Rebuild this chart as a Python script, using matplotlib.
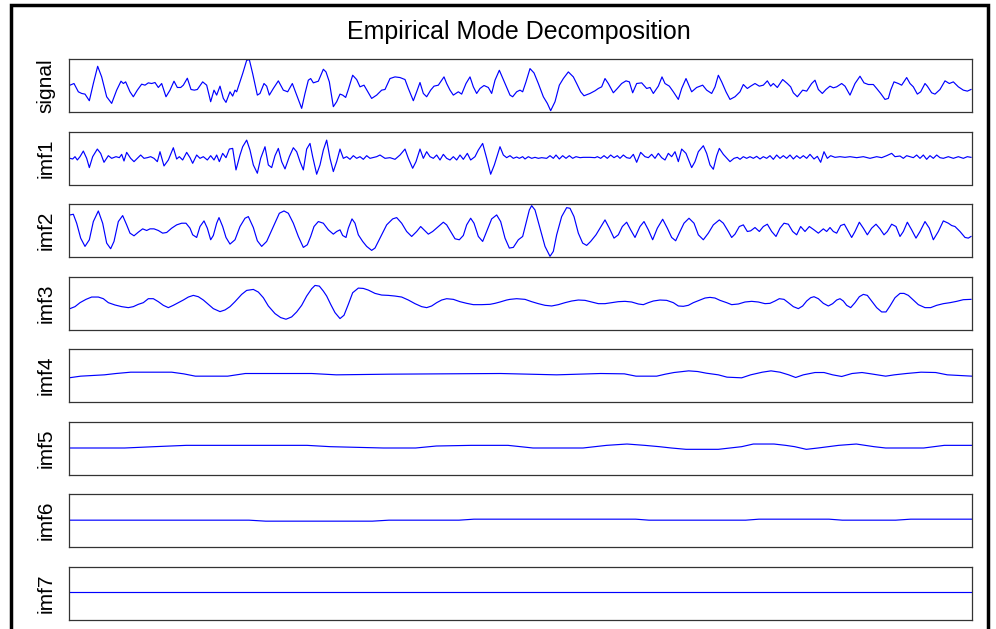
import matplotlib.pyplot as plt
from matplotlib.patches import Rectangle

plt.rcParams['font.family'] = ['Liberation Sans', 'DejaVu Sans']

# sample index / amplitude pairs for the original signal and its IMFs
N_SAMPLES = 2709

signal_n = [3, 15, 28, 38, 48, 61, 73, 86, 98, 113, 128, 143, 156, 163, 170, 183, 193, 205, 218, 228,
            238, 248, 258, 268, 278, 291, 303, 315, 325, 335, 343, 355, 366, 376, 385, 401, 413, 425, 435, 443,
            453, 463, 471, 483, 491, 498, 503, 521, 533, 541, 551, 565, 573, 585, 593, 601, 613, 628, 643, 656,
            670, 683, 698, 708, 718, 725, 733, 748, 763, 771, 781, 793, 803, 813, 821, 830, 838, 851, 863, 873,
            885, 908, 923, 938, 948, 963, 978, 993, 1008, 1018, 1033, 1043, 1053, 1063, 1073, 1085, 1095, 1108, 1125, 1133,
            1143, 1153, 1168, 1178, 1191, 1203, 1213, 1223, 1233, 1245, 1258, 1268, 1278, 1291, 1308, 1323, 1331, 1343, 1353, 1361,
            1371, 1383, 1395, 1408, 1423, 1435, 1445, 1458, 1471, 1483, 1498, 1513, 1523, 1535, 1545, 1563, 1578, 1588, 1598, 1608,
            1618, 1633, 1645, 1658, 1671, 1681, 1691, 1703, 1718, 1733, 1743, 1753, 1768, 1779, 1788, 1801, 1813, 1828, 1838, 1851,
            1868, 1883, 1901, 1913, 1928, 1938, 1948, 1958, 1971, 1983, 1998, 2013, 2023, 2035, 2045, 2058, 2071, 2083, 2095, 2105,
            2113, 2125, 2141, 2155, 2165, 2173, 2185, 2201, 2213, 2228, 2238, 2248, 2260, 2271, 2283, 2293, 2303, 2318, 2328, 2343,
            2358, 2373, 2385, 2398, 2413, 2423, 2435, 2448, 2458, 2465, 2475, 2488, 2498, 2513, 2523, 2533, 2545, 2555, 2568, 2575,
            2588, 2598, 2613, 2628, 2641, 2653, 2668, 2683, 2695, 2706]
signal_v = [1, 6, -19, -24, -26, -46, 6, 58, 26, -34, -54, -14, 13, 6, 11, -19, -34, -14, 4, 1,
            8, 6, 9, -6, 6, -34, -14, 13, -6, -6, 1, 22, -12, -14, -12, 11, 1, -49, -14, -29,
            -2, -39, -51, -19, -32, -14, -19, 36, 76, 78, 36, -29, -24, 6, -2, -29, -9, 14, -14, -19,
            6, -29, -69, -24, 16, 21, 8, 13, 49, 41, 11, -64, -49, -26, -29, -36, -12, 31, 18, -4,
            1, -39, -29, -14, -12, 21, 26, 24, 18, -9, -46, -19, 9, -24, -34, -14, -2, 1, 26, 6,
            -14, -29, -19, -26, 6, 26, -4, -24, -9, 0, -6, -24, 16, 46, 6, -29, -34, -19, -14, -19,
            11, 51, 38, 6, -34, -54, -76, -49, 1, 21, 41, 26, 6, -19, -31, -24, -16, -9, -4, 21,
            6, -22, -9, 6, 14, 11, -22, 6, 8, -9, -6, -24, -2, 26, 6, -2, -19, -42, -9, 21,
            -19, -6, 1, -14, -24, -4, 31, 11, -19, -42, -34, -19, 3, -9, -2, 6, -2, 1, 14, -2,
            6, -6, 18, 6, -4, -22, -34, -14, -17, 6, 16, -12, -24, -12, -2, -7, -4, 6, -2, -29,
            6, 28, 8, 3, 3, -9, -24, -42, -39, -14, 11, 6, 1, 24, 6, -4, -26, -19, 6, -2,
            -22, -26, -12, 14, 6, 11, -4, -14, -17, -12]

imf1_n = [3, 11, 18, 25, 33, 43, 53, 61, 71, 85, 95, 105, 118, 128, 141, 151, 158, 165, 173, 185,
          195, 205, 215, 225, 235, 245, 255, 265, 273, 285, 298, 313, 323, 331, 341, 353, 363, 371, 383, 393,
          403, 415, 425, 435, 443, 451, 461, 471, 481, 491, 501, 513, 521, 533, 543, 553, 565, 575, 588, 598,
          608, 618, 628, 638, 648, 661, 673, 683, 693, 703, 713, 723, 731, 743, 753, 763, 773, 783, 793, 803,
          813, 823, 833, 843, 853, 863, 873, 883, 893, 903, 923, 933, 948, 963, 978, 993, 1008, 1018, 1031, 1041,
          1053, 1063, 1073, 1083, 1093, 1103, 1113, 1123, 1133, 1143, 1153, 1163, 1173, 1183, 1195, 1205, 1218, 1228, 1241, 1253,
          1265, 1276, 1293, 1303, 1313, 1323, 1333, 1343, 1351, 1361, 1368, 1378, 1388, 1398, 1408, 1418, 1433, 1443, 1453, 1461,
          1471, 1481, 1491, 1501, 1511, 1521, 1533, 1543, 1563, 1578, 1585, 1595, 1605, 1615, 1625, 1635, 1645, 1653, 1663, 1673,
          1683, 1693, 1703, 1715, 1728, 1738, 1748, 1758, 1768, 1778, 1788, 1798, 1808, 1818, 1828, 1838, 1851, 1868, 1878, 1888,
          1903, 1913, 1923, 1933, 1943, 1951, 1963, 1983, 1995, 2005, 2013, 2023, 2033, 2043, 2053, 2063, 2073, 2083, 2093, 2103,
          2113, 2123, 2133, 2143, 2153, 2163, 2173, 2183, 2193, 2203, 2213, 2223, 2235, 2245, 2255, 2265, 2275, 2285, 2298, 2313,
          2328, 2343, 2363, 2383, 2403, 2423, 2438, 2453, 2468, 2478, 2493, 2503, 2513, 2523, 2533, 2543, 2553, 2563, 2573, 2583,
          2593, 2603, 2613, 2623, 2638, 2653, 2668, 2683, 2695, 2706]
imf1_v = [-1, -3, 4, -6, 4, 21, -1, -29, 4, 27, 14, -13, 7, -1, 4, 1, 11, -9, 17, -1,
          -11, -1, 9, -1, 1, 4, -1, -11, 19, -24, -6, 31, -3, 4, -6, 17, 1, -16, 9, -1,
          4, -6, 7, -6, 9, -11, 14, 1, 27, 29, -36, 9, 34, 54, 24, -21, -46, -1, 34, -21,
          -29, 7, 29, -11, -33, 4, 31, 19, -11, -36, 27, 44, 4, -49, -21, 24, 54, -1, -41, -11,
          27, -1, 4, -4, 7, -1, 4, -4, 7, -1, 4, 9, -1, 1, -4, 9, 27, -1, -31, -11,
          27, -1, 19, 4, -1, 9, -6, 11, -1, -6, 4, -6, 9, -4, 14, -6, 4, 24, 44, -1,
          -49, -21, 34, 9, 1, 7, -1, 3, -1, 4, -3, 4, -1, 2, -1, 1, -1, 7, -1, 9,
          -3, 7, -1, 7, -1, 4, 1, 2, 2, 1, 4, -1, 7, -1, 9, 1, 7, -1, 9, 1,
          -1, 11, -13, 17, 4, 1, 11, -1, 14, 1, -6, 14, 4, 19, -11, 27, 14, -29, -11, 19,
          37, 14, -21, -34, 7, 29, 11, -11, -1, 2, -4, 4, -1, 4, -1, 5, -3, 4, -1, 7,
          -4, 9, -1, 7, -1, 9, -3, 7, -1, 7, -1, 11, -3, 5, -13, 19, -1, 7, 2, 4,
          2, 4, 1, 4, -1, 4, 1, 7, 14, 4, 6, -1, 7, 4, 1, 9, -1, 9, -4, 7,
          -1, 9, 1, -1, 4, -1, 4, -1, 4, 2]

imf2_n = [3, 13, 23, 35, 48, 61, 73, 88, 101, 113, 125, 135, 148, 161, 173, 183, 195, 208, 221, 233,
          243, 255, 268, 281, 293, 308, 323, 338, 351, 363, 371, 383, 393, 405, 415, 425, 433, 443, 450, 461,
          471, 483, 498, 513, 528, 538, 553, 565, 578, 593, 613, 631, 645, 658, 673, 688, 703, 715, 725, 735,
          748, 763, 778, 793, 803, 813, 821, 831, 838, 849, 858, 868, 881, 893, 908, 918, 933, 953, 971, 983,
          998, 1013, 1028, 1043, 1055, 1065, 1078, 1091, 1108, 1123, 1133, 1145, 1158, 1171, 1183, 1193, 1205, 1215, 1228, 1241,
          1253, 1268, 1283, 1295, 1308, 1321, 1333, 1348, 1361, 1371, 1381, 1388, 1398, 1413, 1428, 1443, 1453, 1463, 1478, 1493,
          1503, 1515, 1528, 1541, 1553, 1565, 1581, 1593, 1608, 1621, 1635, 1648, 1660, 1673, 1685, 1698, 1713, 1725, 1738, 1751,
          1765, 1781, 1795, 1808, 1820, 1833, 1845, 1860, 1875, 1888, 1903, 1918, 1933, 1951, 1963, 1978, 1988, 1998, 2011, 2023,
          2035, 2045, 2058, 2071, 2083, 2095, 2108, 2121, 2133, 2145, 2158, 2171, 2183, 2195, 2208, 2221, 2235, 2248, 2263, 2273,
          2283, 2293, 2303, 2315, 2326, 2338, 2348, 2358, 2371, 2383, 2395, 2408, 2421, 2433, 2445, 2455, 2468, 2481, 2493, 2503,
          2515, 2528, 2541, 2553, 2568, 2581, 2593, 2608, 2623, 2638, 2648, 2658, 2673, 2688, 2698, 2706]
imf2_v = [47, 49, 22, -23, -48, -28, 27, 59, 22, -38, -55, -33, 27, 45, 17, -8, -16, -5, 5, 0,
          5, 5, 0, -8, -6, 7, 17, 22, 22, 7, -13, -21, 12, 29, 7, -28, -15, 22, 39, 12,
          -21, -41, -28, 12, 37, 42, 9, -31, -48, -33, 12, 52, 59, 52, 22, -18, -51, -43, -18, 12,
          27, 22, 2, -11, -3, 2, -15, -21, 7, 35, 22, -13, -33, -48, -60, -53, -23, 17, 35, 39,
          22, -3, -18, -3, 12, 2, -11, -3, 12, 25, 17, -3, -25, -28, -15, 17, 37, 22, -18, -33,
          -3, 35, 47, 27, -23, -53, -51, -28, -18, 22, 62, 75, 62, 7, -48, -78, -63, -13, 42, 69,
          67, 42, -8, -38, -45, -33, -13, 7, 32, 7, -23, -13, 12, 25, 2, -21, 12, 27, 2, -28,
          7, 34, 7, -21, -31, -3, 22, 37, 22, -13, -28, -8, 17, 32, 22, -3, -21, -11, 12, 17,
          -3, -1, 9, -3, 12, 19, -3, -18, 7, 22, 19, -3, -13, 12, -3, 12, 2, -8, 5, -3,
          9, -3, -8, 15, 19, -3, -21, -3, 25, 7, -13, 7, 19, 5, -13, -3, 19, 12, -18, -3,
          25, 2, -23, -3, 27, 7, -28, -3, 29, 22, 15, 12, -3, -21, -23, -18]

imf3_n = [3, 18, 33, 51, 68, 88, 103, 118, 138, 158, 178, 193, 208, 223, 238, 253, 268, 283, 298, 313,
          328, 343, 358, 373, 388, 403, 418, 433, 453, 468, 483, 498, 518, 533, 553, 568, 583, 598, 618, 635,
          651, 668, 683, 698, 713, 728, 738, 751, 763, 773, 785, 798, 813, 825, 838, 851, 868, 883, 898, 918,
          938, 958, 978, 998, 1018, 1038, 1058, 1073, 1088, 1103, 1118, 1133, 1153, 1173, 1193, 1213, 1238, 1263, 1278, 1293,
          1313, 1323, 1343, 1368, 1388, 1408, 1428, 1448, 1468, 1488, 1508, 1528, 1548, 1568, 1588, 1608, 1628, 1648, 1668, 1688,
          1708, 1723, 1738, 1753, 1773, 1793, 1813, 1828, 1843, 1858, 1873, 1893, 1908, 1923, 1938, 1953, 1973, 1988, 2008, 2028,
          2048, 2068, 2088, 2103, 2118, 2131, 2145, 2158, 2173, 2188, 2201, 2213, 2225, 2235, 2248, 2263, 2278, 2291, 2303, 2313,
          2323, 2333, 2345, 2358, 2371, 2383, 2395, 2408, 2423, 2438, 2451, 2463, 2478, 2493, 2505, 2518, 2533, 2548, 2568, 2585,
          2603, 2623, 2643, 2663, 2683, 2706]
imf3_v = [-17, -11, 1, 11, 18, 18, 13, 1, -6, -11, -14, -11, -4, 1, 13, 13, 4, -7, -14, -7,
          1, 9, 18, 23, 19, 9, -4, -17, -26, -21, -11, 4, 26, 38, 41, 33, 16, -9, -32, -44,
          -49, -42, -27, -7, 21, 43, 53, 51, 36, 21, -4, -29, -47, -37, -4, 31, 45, 44, 39, 29,
          24, 23, 21, 18, 9, -2, -11, -14, -9, 1, 9, 13, 11, 4, -1, -5, -5, -4, -1, 3,
          9, 11, 13, 11, 4, -2, -7, -9, -5, 1, 6, 9, 8, 3, -2, -2, 1, 4, 5, 3,
          -3, -5, 1, 6, 9, 8, 1, -9, -10, -7, 1, 9, 15, 17, 15, 8, 1, -5, -3, 3,
          5, 3, -2, -1, 6, 13, 11, 1, -11, -17, -9, 6, 16, 19, 13, -1, -9, -2, 9, 13,
          6, -7, -14, 1, 19, 26, 23, 6, -14, -27, -27, -9, 16, 29, 29, 23, 9, -5, -14, -14,
          -7, -2, 1, 5, 10, 11]

imf4_n = [0, 35, 106, 141, 185, 308, 344, 379, 476, 529, 728, 802, 960, 1119, 1295, 1463, 1595, 1666, 1701, 1763,
          1789, 1815, 1859, 1886, 1912, 1948, 1974, 2018, 2045, 2080, 2106, 2133, 2159, 2180, 2203, 2238, 2265, 2291, 2318, 2349,
          2379, 2406, 2450, 2476, 2512, 2556, 2600, 2635, 2709]
imf4_v = [-7, -2, 2, 6, 10, 10, 5, -2, -2, 6, 6, 2, 4, 5, 6, 2, 6, 5, -2, -2,
          4, 9, 14, 12, 7, 2, -5, -7, 2, 10, 14, 10, 2, -6, 2, 9, 9, 2, -3, 6,
          9, 5, -2, 2, 6, 10, 9, 2, -2]

imf5_n = [0, 167, 256, 352, 714, 784, 943, 1040, 1102, 1207, 1317, 1392, 1542, 1613, 1674, 1727, 1771, 1807, 1851, 1948,
          1983, 2018, 2053, 2115, 2150, 2177, 2212, 2247, 2309, 2362, 2415, 2450, 2564, 2626, 2709]
imf5_v = [0, 0, 4, 8, 8, 4, 0, 0, 6, 8, 8, 0, 0, 8, 12, 8, 4, 0, -4, -4,
          0, 4, 12, 12, 8, 4, -4, 0, 8, 12, 4, 0, 0, 8, 8]

imf6_n = [0, 540, 590, 910, 960, 1170, 1215, 1700, 1740, 2030, 2070, 2280, 2320, 2480, 2525, 2709]
imf6_v = [1, 1, -2, -2, 1, 1, 4, 4, 1, 1, 4, 4, 1, 1, 4, 4]

imf7_n = [0, 2709]
imf7_v = [2, 2]

names = ["signal", "imf1", "imf2", "imf3", "imf4", "imf5", "imf6", "imf7"]
series = [(signal_n, signal_v), (imf1_n, imf1_v), (imf2_n, imf2_v), (imf3_n, imf3_v),
          (imf4_n, imf4_v), (imf5_n, imf5_v), (imf6_n, imf6_v), (imf7_n, imf7_v)]

W, H = 996, 629
fig = plt.figure(figsize=(W / 100, H / 100), dpi=100)

for k, (name, (n, v)) in enumerate(zip(names, series)):
    top = 59 + 72.5 * k
    ax = fig.add_axes([69 / W, 1 - (top + 53) / H, 903 / W, 53 / H])
    ax.plot(n, v, color='#0000ff', lw=0.85)
    ax.set_xlim(0, N_SAMPLES)
    ax.set_ylim(-80, 80)
    ax.set_xticks([])
    ax.set_yticks([])
    for s in ax.spines.values():
        s.set_color('#333333')
        s.set_linewidth(0.9)
    fig.text(46 / W, 1 - (top + 26.5) / H, name, rotation=90,
             ha='center', va='center', fontsize=15)

fig.text(519 / W, 1 - 32 / H, 'Empirical Mode Decomposition',
         ha='center', va='center', fontsize=18)

# black frame around the whole figure (open at the bottom)
fig.add_artist(Rectangle((11 / W, -0.1), 977 / W, 1.1 - 5 / H, transform=fig.transFigure,
                         fill=False, ec='black', lw=2.5))

fig.savefig('out.png', dpi=100, facecolor='white')
